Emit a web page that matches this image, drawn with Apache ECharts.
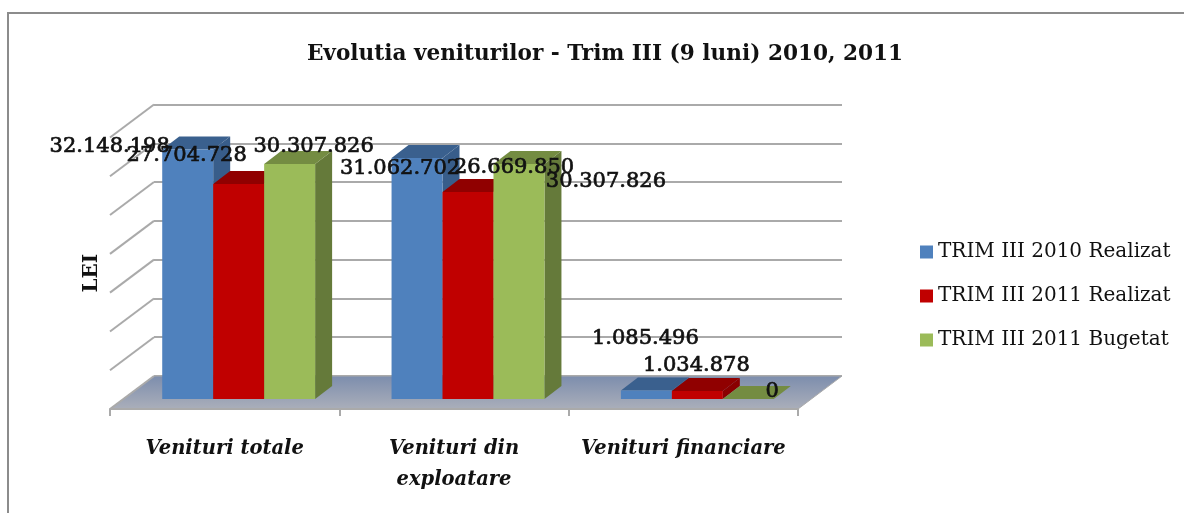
<!DOCTYPE html>
<html>
<head>
<meta charset="utf-8">
<style>html,body{margin:0;padding:0;background:#fff}#main{width:1184px;height:513px}</style>
<script src="https://cdn.jsdelivr.net/npm/echarts@6/dist/echarts.min.js"></script>
</head>
<body>
<div id="main"></div>
<script>
var categories = ['Venituri totale', 'Venituri din\nexploatare', 'Venituri financiare'];
var seriesNames = ['TRIM III 2010 Realizat', 'TRIM III 2011 Realizat', 'TRIM III 2011 Bugetat'];
var realizat2010 = [32148198, 31062702, 1085496];
var realizat2011 = [27704728, 26669850, 1034878];
var bugetat2011 = [30307826, 30307826, 0];
var yTicks = [0, 5000000, 10000000, 15000000, 20000000, 25000000, 30000000, 35000000];

// colours per series: front, top, side
var faceColors = [
    ['#4f81bd', '#3a608e', '#385d8a'],
    ['#c00000', '#900000', '#8a0000'],
    ['#9bbb59', '#748c42', '#657a3a']
];
// Excel labels were dragged by hand, offset from the top centre of each bar
var labelOffsets = [
    [[-78, -3], [-17, 11], [-1, -52]],
    [[-52, -29], [46, -25], [-1, -25]],
    [[24, -17], [87, 18], [24, -7]]
];
var serif = '"DejaVu Serif"';
var gridColor = '#aaaaaa';
var wallDx = -44, wallDy = 33;   // back wall to front edge of the floor
var barDx = 17, barDy = -13;     // depth of one bar

function fmt(v) {
    return String(v).replace(/\B(?=(\d{3})+$)/g, '.');
}

function barItem(seriesIdx) {
    return function (params, api) {
        var i = api.value(0), v = api.value(1);
        var top = api.coord([i, v]);
        var base = api.coord([i, 0]);
        var w = api.size([1, 0])[0] / 4.5;
        var x0 = top[0] + (seriesIdx - 1.5) * w, x1 = x0 + w;
        var c = faceColors[seriesIdx];
        var off = labelOffsets[seriesIdx][i];
        return {
            type: 'group',
            children: [{
                type: 'polygon',
                shape: {points: [[x1, top[1]], [x1 + barDx, top[1] + barDy], [x1 + barDx, base[1] + barDy], [x1, base[1]]]},
                style: {fill: c[2]}
            }, {
                type: 'polygon',
                shape: {points: [[x0, top[1]], [x0 + barDx, top[1] + barDy], [x1 + barDx, top[1] + barDy], [x1, top[1]]]},
                style: {fill: c[1]}
            }, {
                type: 'rect',
                shape: {x: x0, y: top[1], width: w, height: base[1] - top[1]},
                style: {fill: c[0]}
            }, {
                type: 'text',
                z2: 100,
                x: x0 + w / 2 + off[0],
                y: top[1] + off[1],
                style: {
                    text: fmt(v), font: '21px ' + serif, fill: '#111',
                    stroke: '#111', lineWidth: 0.7,
                    align: 'center', verticalAlign: 'middle'
                }
            }]
        };
    };
}

function makeBars(idx, values) {
    return {
        name: seriesNames[idx],
        type: 'custom',
        xAxisIndex: 2,
        yAxisIndex: 2,
        itemStyle: {color: faceColors[idx][0]},
        encode: {x: 0, y: 1},
        renderItem: barItem(idx),
        data: categories.map(function (c, i) { return [i, values[i]]; })
    };
}

var option = {
    backgroundColor: '#fff',
    animation: false,
    title: {
        text: 'Evolutia veniturilor - Trim III (9 luni) 2010, 2011',
        left: 600,
        top: 38,
        textAlign: 'center',
        textStyle: {fontFamily: serif, fontSize: 21.6, fontWeight: 'bold', color: '#111'}
    },
    legend: {
        orient: 'vertical',
        left: 915,
        top: 237,
        itemWidth: 13,
        itemHeight: 13,
        itemGap: 24,
        icon: 'rect',
        data: seriesNames,
        textStyle: {fontFamily: serif, fontSize: 20, color: '#111'}
    },
    // back wall, front edge of the floor, plane of the bar fronts
    grid: [
        {left: 154, right: 342, top: 104.5, bottom: 137},
        {left: 110, right: 386, top: 137.5, bottom: 104},
        {left: 124, right: 372, top: 127.5, bottom: 114}
    ],
    xAxis: [
        {gridIndex: 0, type: 'category', data: categories, show: false},
        {
            gridIndex: 1,
            type: 'category',
            data: categories,
            z: 3,
            axisLine: {show: true, lineStyle: {color: gridColor, width: 2}},
            axisTick: {show: true, length: 7, lineStyle: {color: gridColor, width: 2}},
            axisLabel: {
                interval: 0, margin: 24, lineHeight: 31,
                fontFamily: serif, fontSize: 19.5, fontWeight: 'bold', fontStyle: 'italic', color: '#111'
            }
        },
        {gridIndex: 2, type: 'category', data: categories, show: false}
    ],
    yAxis: [
        {
            gridIndex: 0, type: 'value', min: 0, max: 35000000, interval: 5000000,
            axisLine: {show: false}, axisTick: {show: false}, axisLabel: {show: false},
            splitLine: {lineStyle: {color: gridColor, width: 2}}
        },
        {
            gridIndex: 1, type: 'value', min: 0, max: 35000000, interval: 5000000,
            name: 'LEI', nameLocation: 'middle', nameGap: 8,
            nameTextStyle: {fontFamily: serif, fontSize: 20, fontWeight: 'bold', color: '#111'},
            axisLine: {show: false}, axisTick: {show: false}, axisLabel: {show: false},
            splitLine: {show: false}
        },
        {gridIndex: 2, type: 'value', min: 0, max: 35000000, interval: 5000000, show: false}
    ],
    graphic: [
        {type: 'polyline', shape: {points: [[8, 520], [8, 13], [1190, 13]]}, style: {stroke: '#8c8c8c', lineWidth: 2, fill: null}}
    ],
    series: [{
        // floor
        type: 'custom',
        xAxisIndex: 0,
        yAxisIndex: 0,
        silent: true,
        z: 1,
        data: [[0, 0]],
        renderItem: function (params, api) {
            var cs = params.coordSys;
            var y = api.coord([0, 0])[1];
            return {
                type: 'polygon',
                shape: {points: [[cs.x, y], [cs.x + cs.width, y], [cs.x + cs.width + wallDx, y + wallDy], [cs.x + wallDx, y + wallDy]]},
                style: {
                    fill: new echarts.graphic.LinearGradient(0, 0, 0, 1, [
                        {offset: 0, color: '#7c8dad'},
                        {offset: 1, color: '#abafba'}
                    ]),
                    stroke: gridColor,
                    lineWidth: 1
                }
            };
        }
    }, {
        // left wall lines, one per tick
        type: 'custom',
        xAxisIndex: 0,
        yAxisIndex: 0,
        silent: true,
        z: 1,
        data: yTicks.map(function (t) { return [0, t]; }),
        renderItem: function (params, api) {
            var cs = params.coordSys;
            var y = api.coord([0, api.value(1)])[1];
            return {
                type: 'line',
                shape: {x1: cs.x, y1: y, x2: cs.x + wallDx, y2: y + wallDy},
                style: {stroke: gridColor, lineWidth: 2}
            };
        }
    },
        makeBars(0, realizat2010),
        makeBars(1, realizat2011),
        makeBars(2, bugetat2011)
    ]
};

var myChart = echarts.init(document.getElementById('main'));
myChart.setOption(option);
</script>
</body>
</html>
